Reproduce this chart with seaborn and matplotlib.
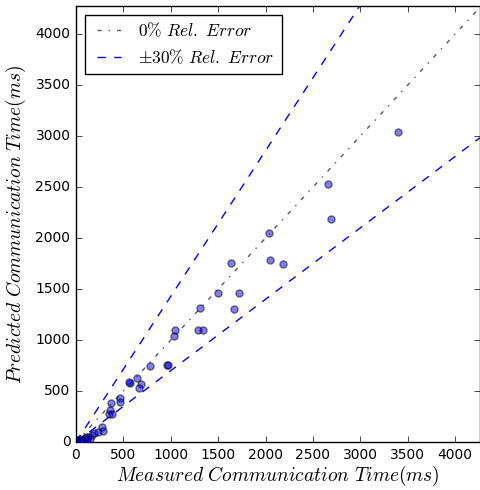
import numpy as np
import pandas as pd
import seaborn as sns
import matplotlib
matplotlib.use("Agg")
import matplotlib.pyplot as plt

# measured vs predicted communication time (ms)
measured = [3400, 2660, 2695, 2035, 2050, 2180, 1630, 1495, 1715, 1665,
            1310, 1285, 1335, 1035, 1040, 957, 967, 781, 647, 570,
            560, 683, 665, 464, 464, 369, 359, 351, 383, 271,
            282, 229, 166, 130, 95, 60, 24, 148, 5, 10,
            15, 35, 45, 55, 70, 110, 120, 190]
predicted = [3035, 2525, 2190, 2050, 1785, 1745, 1760, 1465, 1465, 1300,
             1310, 1095, 1095, 1040, 1095, 752, 752, 745, 630, 581,
             590, 572, 532, 434, 389, 379, 314, 275, 272, 144,
             105, 101, 69, 52, 36, 20, 13, 26, 5, 15,
             3, 8, 25, 10, 5, 45, 15, 85]

x_max = 4262
y_max = 4275
line_x = [0, x_max]
rel_err = 0.3

plt.style.use("classic")
plt.rcParams["mathtext.fontset"] = "cm"
plt.rcParams["font.family"] = ["DejaVu Sans"]

fig = plt.figure(figsize=(4.81, 4.90), dpi=100, facecolor="white")
ax = fig.add_axes([76 / 481, 48 / 490, 404 / 481, 436 / 490])
ax.set_facecolor("white")

df = pd.DataFrame({"measured": measured, "predicted": predicted})
lines = pd.DataFrame({"x": line_x})
lines["exact"] = lines["x"]
lines["upper"] = lines["x"] / (1 - rel_err)
lines["lower"] = lines["x"] * (1 - rel_err)

sns.lineplot(data=lines, x="x", y="exact", ax=ax, color="0.35", linestyle="-.",
             linewidth=1, label=r"$0\%\ Rel.\ Error$")
sns.lineplot(data=lines, x="x", y="upper", ax=ax, color="b", linestyle="--",
             linewidth=1, label=r"$\pm30\%\ Rel.\ Error$")
sns.lineplot(data=lines, x="x", y="lower", ax=ax, color="b", linestyle="--",
             linewidth=1)
sns.scatterplot(data=df, x="measured", y="predicted", ax=ax, color="b",
                alpha=0.5, s=26, edgecolor="k", linewidth=1, zorder=3)

ax.set_xlim(0, x_max)
ax.set_ylim(0, y_max)
ax.set_xticks(np.arange(0, 4001, 500))
ax.set_yticks(np.arange(0, 4001, 500))
ax.tick_params(labelsize=10, direction="in", top=True, right=True)
ax.set_xlabel(r"$Measured\ Communication\ Time(ms)$", fontsize=14, labelpad=2)
ax.set_ylabel(r"$Predicted\ Communication\ Time(ms)$", fontsize=14)

leg = ax.legend(loc="upper left", fontsize=12.5, frameon=True, fancybox=False,
                handlelength=2.0, handletextpad=0.7, borderaxespad=0.5)
leg.get_frame().set_edgecolor("black")

fig.savefig("out.png", dpi=100, facecolor="white")
